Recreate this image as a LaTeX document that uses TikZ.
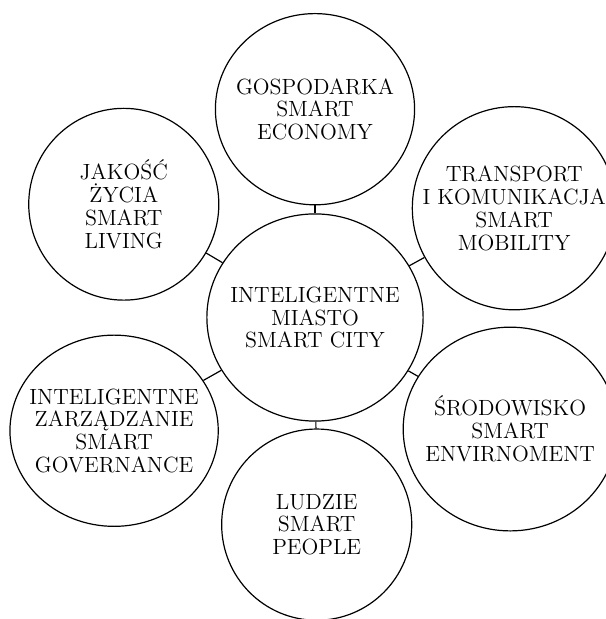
\documentclass[tikz,border=0pt]{standalone}
\usepackage{fontspec}
\usetikzlibrary{shapes.geometric}
\begin{document}
\begin{tikzpicture}[
	bubble/.style={draw,ellipse,semithick,inner sep=0pt},
	every label/.style={align=center,font=\fontsize{11}{11.4}\selectfont}]
		\useasboundingbox (-5.535,-5.298) rectangle (5.096,5.579);
		% centre and the six areas round it
		\node[bubble,minimum width=3.80cm,minimum height=3.64cm,label={center:INTELIGENTNE\\MIASTO\\SMART CITY}] (city) at (0,0) {};
		\node[bubble,minimum width=3.50cm,minimum height=3.36cm,label={center:GOSPODARKA\\SMART\\ECONOMY}] (econ) at (0,3.66) {};
		\node[bubble,minimum width=3.58cm,minimum height=3.57cm,label={center:TRANSPORT\\I KOMUNIKACJA\\SMART\\MOBILITY}] (mobility) at (3.50,1.92) {};
		\node[bubble,minimum width=3.76cm,minimum height=3.58cm,label={center:ŚRODOWISKO\\SMART\\ENVIRNOMENT}] (environment) at (3.43,-1.96) {};
		\node[bubble,minimum width=3.34cm,minimum height=3.36cm,label={center:LUDZIE\\SMART\\PEOPLE}] (people) at (0.03,-3.64) {};
		\node[bubble,minimum width=3.66cm,minimum height=3.36cm,label={center:INTELIGENTNE\\ZARZĄDZANIE\\SMART\\GOVERNANCE}] (govern) at (-3.53,-1.99) {};
		\node[bubble,minimum width=3.34cm,minimum height=3.37cm,label={center:JAKOŚĆ\\ŻYCIA\\SMART\\LIVING}] (living) at (-3.36,1.99) {};
		% short links to the centre
		\foreach \n in {econ,mobility,environment,people,govern,living}
			\draw[semithick] (city)--(\n);
\end{tikzpicture}
\end{document}
